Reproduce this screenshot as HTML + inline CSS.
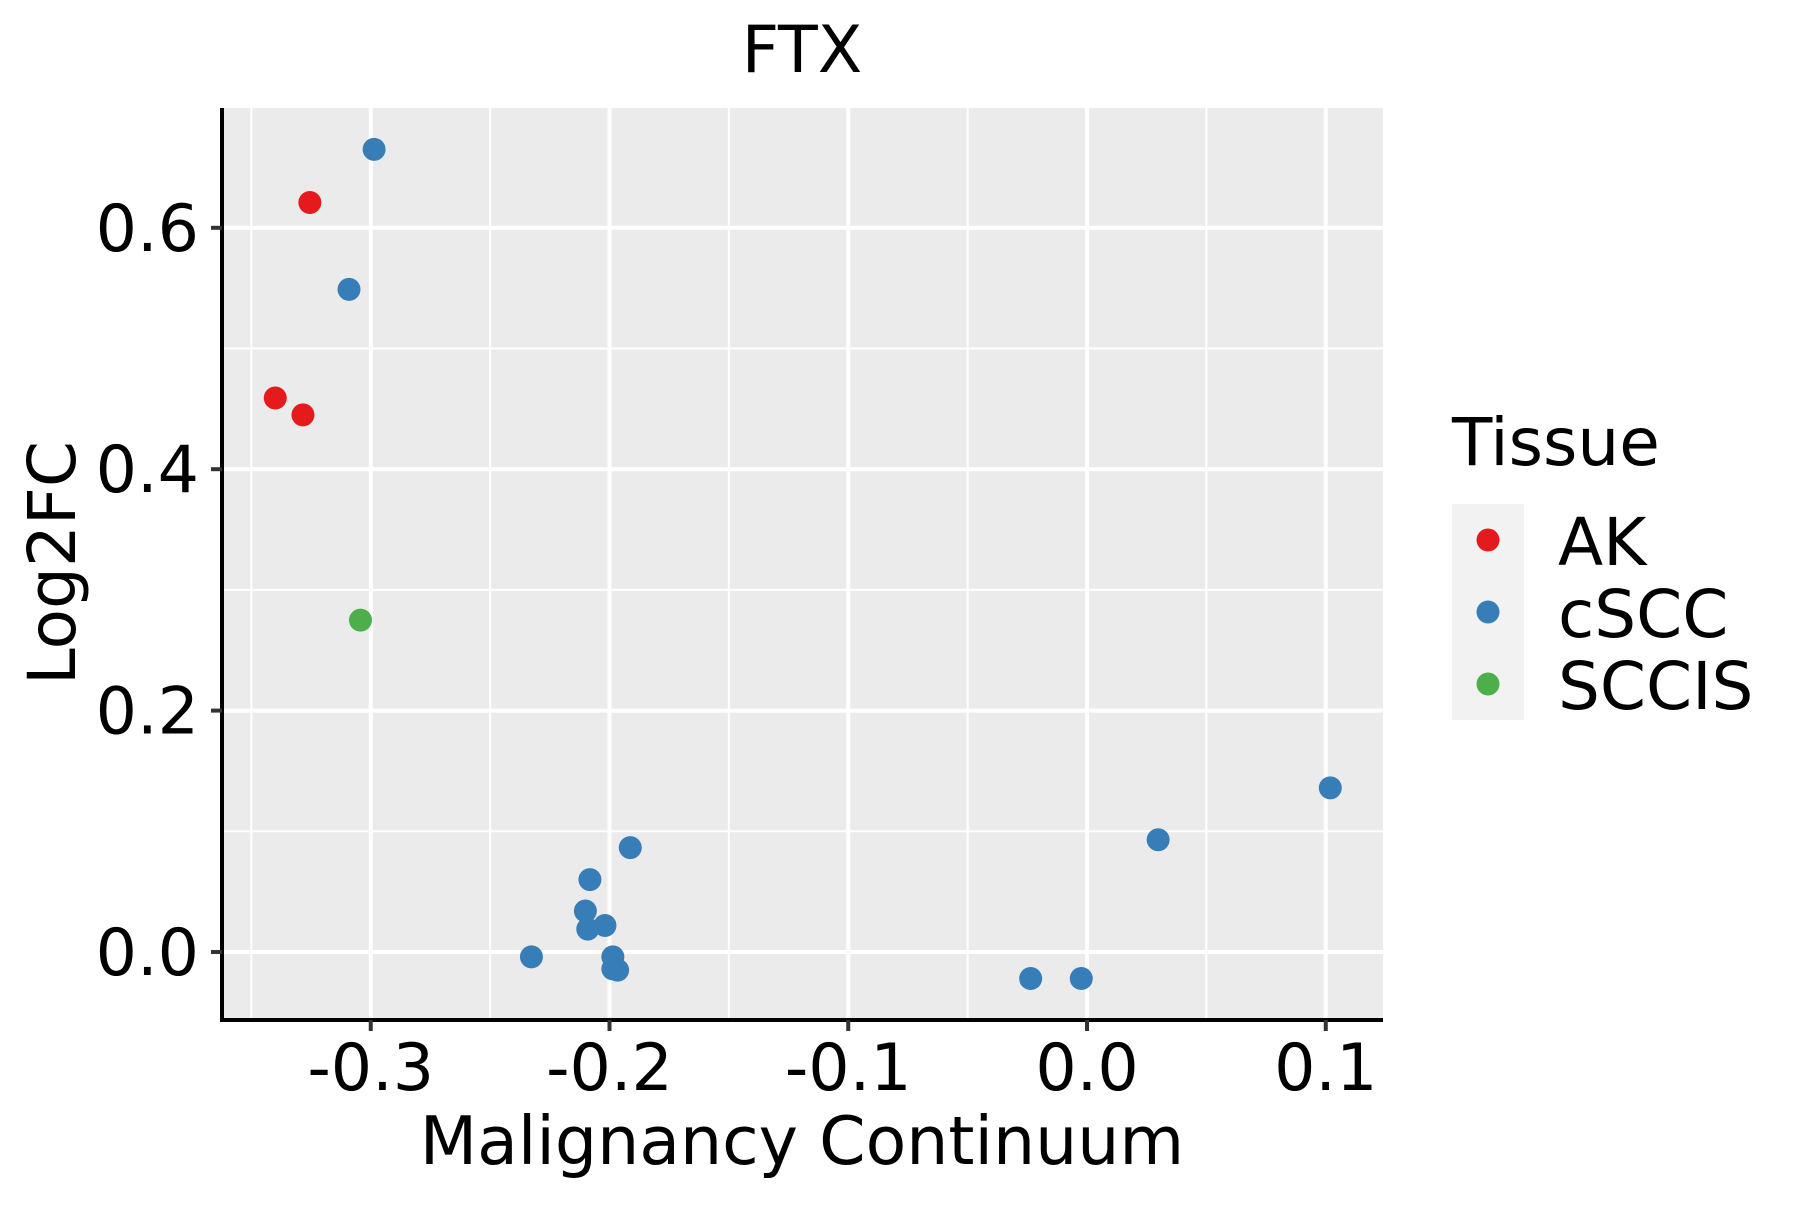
<!DOCTYPE html>
<html><head><meta charset="utf-8"><style>
html,body{margin:0;padding:0;background:#fff}
text{font-family:"DejaVu Sans","Liberation Sans",sans-serif}
</style></head><body>
<svg id="chart" width="1800" height="1200" viewBox="0 0 1800 1200" xmlns="http://www.w3.org/2000/svg">
<rect width="1800" height="1200" fill="#fff"/>
<rect x="222" y="108" width="1161" height="912" fill="#ebebeb"/>
<g id="grid"></g>
<g id="points"></g>
<g id="axes"></g>
<text x="802" y="72" font-size="65" text-anchor="middle">FTX</text>
<text x="802" y="1164" font-size="66.5" text-anchor="middle">Malignancy Continuum</text>
<text x="75" y="563" font-size="66" text-anchor="middle" transform="rotate(-90 75 563)">Log2FC</text>
<g>
<text x="1452" y="465" font-size="66">Tissue</text>
<rect x="1452" y="504" width="72" height="216" fill="#f2f2f2"/>
<g id="legend-entries"></g>
</g>
</svg>
<script>
const xTicks=[-0.3,-0.2,-0.1,0.0,0.1];
const xTickLabels=["-0.3","-0.2","-0.1","0.0","0.1"];
const xMinor=[-0.35,-0.25,-0.15,-0.05,0.05];
const yTicks=[0,0.2,0.4,0.6];
const yTickLabels=["0.0","0.2","0.4","0.6"];
const yMinor=[0.1,0.3,0.5];
const groups=["AK","cSCC","SCCIS"];
const groupColors=["#e41a1c","#377eb8","#4daf4a"];
const akX=[-0.3255,-0.340,-0.3284];
const akY=[0.621,0.459,0.445];
const sccisX=[-0.3043];
const sccisY=[0.275];
const csccX=[-0.2986,-0.3091,-0.1913,-0.2082,-0.2101,-0.2019,-0.2091,-0.2327,-0.1986,-0.1986,-0.1966,-0.0236,-0.0024,0.0298,0.1019];
const csccY=[0.665,0.549,0.0865,0.060,0.034,0.022,0.019,-0.004,-0.004,-0.014,-0.015,-0.022,-0.022,0.093,0.136];

const NS="http://www.w3.org/2000/svg";
const L=222,R=1383,T=108,B=1020;
function xs(v){return 1087+v*2387.5;}
function ys(v){return 952-v*1207;}
function mk(tag,attrs,parent){const e=document.createElementNS(NS,tag);for(const k in attrs)e.setAttribute(k,attrs[k]);parent.appendChild(e);return e;}
const grid=document.getElementById('grid');
xMinor.forEach(v=>{const l=mk('line',{x1:xs(v),x2:xs(v),y1:T,y2:B,stroke:'#fff','stroke-width':2},grid);

});
yMinor.forEach(v=>{const l=mk('line',{x1:L,x2:R,y1:ys(v),y2:ys(v),stroke:'#fff','stroke-width':2},grid);

});
xTicks.forEach(v=>{const l=mk('line',{x1:xs(v),x2:xs(v),y1:T,y2:B,stroke:'#fff','stroke-width':4},grid);

});
yTicks.forEach(v=>{const l=mk('line',{x1:L,x2:R,y1:ys(v),y2:ys(v),stroke:'#fff','stroke-width':4},grid);

});
const pts=document.getElementById('points');
function drawSeries(xa,ya,color,name){for(let i=0;i<xa.length;i++){const c=mk('circle',{cx:xs(xa[i]),cy:ys(ya[i]),r:11.5,fill:color},pts);

}}
drawSeries(akX,akY,groupColors[0],'ak');
drawSeries(csccX,csccY,groupColors[1],'cscc');
drawSeries(sccisX,sccisY,groupColors[2],'sccis');
const ax=document.getElementById('axes');
const xl=mk('line',{x1:L,x2:R,y1:B,y2:B,stroke:'#000','stroke-width':4},ax);


const yl=mk('line',{x1:L,x2:L,y1:T,y2:B+2,stroke:'#000','stroke-width':4},ax);


xTicks.forEach((v,i)=>{const t=mk('line',{x1:xs(v),x2:xs(v),y1:B,y2:B+11,stroke:'#333','stroke-width':4},ax);


const tx=mk('text',{x:xs(v),y:1090,'font-size':65,'text-anchor':'middle'},ax);tx.textContent=xTickLabels[i];

});
yTicks.forEach((v,i)=>{const t=mk('line',{x1:L-11,x2:L,y1:ys(v),y2:ys(v),stroke:'#333','stroke-width':4},ax);


const tx=mk('text',{x:199,y:ys(v)+23,'font-size':65,'text-anchor':'end'},ax);tx.textContent=yTickLabels[i];

});
const lg=document.getElementById('legend-entries');
groups.forEach((g,i)=>{const c=mk('circle',{cx:1488,cy:540+i*72,r:11.5,fill:groupColors[i]},lg);


const t=mk('text',{x:1558,y:565+i*72,'font-size':66},lg);t.textContent=g;

});
</script>
</body></html>
